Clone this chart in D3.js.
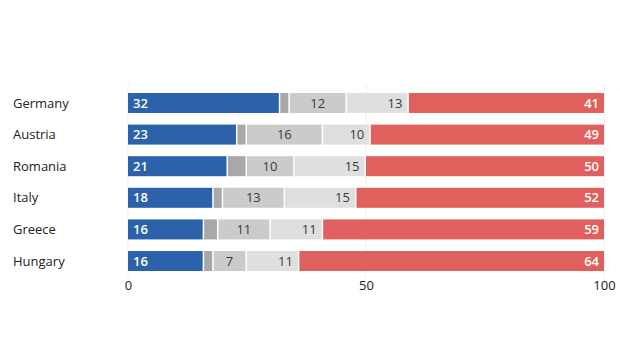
<!DOCTYPE html>
<html>
<head>
<meta charset="utf-8">
<script src="https://cdn.jsdelivr.net/npm/d3@7"></script>
<style>
  html, body { margin: 0; padding: 0; background: #fff; }
  svg { display: block; font-family: "Open Sans", "Noto Sans", sans-serif; }
</style>
</head>
<body>
<svg id="chart" width="620" height="349"></svg>
<script>
// Survey shares per country, stacked left to right (percent)
const countries = ["Germany", "Austria", "Romania", "Italy", "Greece", "Hungary"];
const favour    = [32, 23, 21, 18, 16, 16];
const noAnswer  = [2, 2, 4, 2, 3, 2];
const neutral   = [12, 16, 10, 13, 11, 7];
const leaning   = [13, 10, 15, 15, 11, 11];
const against   = [41, 49, 50, 52, 59, 64];
const xTicks    = [0, 50, 100];

const seriesKeys = ["favour", "noAnswer", "neutral", "leaning", "against"];
const seriesValues = { favour, noAnswer, neutral, leaning, against };
const colors = {
  favour: "#2b62a9",
  noAnswer: "#a8a8a8",
  neutral: "#cbcbcb",
  leaning: "#dfdfdf",
  against: "#e0605e"
};

const rows = countries.map((c, i) => {
  const r = { country: c };
  seriesKeys.forEach(k => r[k] = seriesValues[k][i]);
  return r;
});

const svg = d3.select("#chart");

const x = d3.scaleLinear().domain([0, 100]).range([128, 604]);
const y = d3.scaleBand().domain(countries)
  .range([87.2, 276.8]).paddingInner(0.367).paddingOuter(0.183);

// faint vertical gridlines
svg.append("g").selectAll("line").data(xTicks).join("line")
  .attr("x1", d => x(d)).attr("x2", d => x(d))
  .attr("y1", 84).attr("y2", 278)
  .attr("stroke", "#eeeeee").attr("stroke-width", 1);

const stacked = d3.stack().keys(seriesKeys)(rows);
const gap = 1.5;

const layers = svg.append("g").selectAll("g").data(stacked).join("g")
  .attr("fill", d => colors[d.key]);

layers.selectAll("rect").data(d => d.map(s => ({ s, key: d.key })))
  .join("rect")
  .attr("x", d => x(d.s[0]))
  .attr("y", d => y(d.s.data.country))
  .attr("height", y.bandwidth())
  .attr("width", d => {
    const w = x(d.s[1]) - x(d.s[0]);
    return d.key === "against" ? w : Math.max(0, w - gap);
  });

// value labels
const labels = svg.append("g").attr("font-size", 13);
stacked.forEach(layer => {
  if (layer.key === "noAnswer") return;
  layer.forEach(s => {
    const v = s.data[layer.key];
    const cy = y(s.data.country) + y.bandwidth() / 2;
    let tx, anchor, fill;
    if (layer.key === "favour") { tx = x(s[0]) + 5; anchor = "start"; fill = "#fff"; }
    else if (layer.key === "against") { tx = x(s[1]) - 5; anchor = "end"; fill = "#fff"; }
    else if (layer.key === "neutral") { tx = (x(s[0]) + x(s[1]) - gap) / 2; anchor = "middle"; fill = "#3a3a3a"; }
    else { tx = x(s[1]) - gap - 5; anchor = "end"; fill = "#3a3a3a"; }
    labels.append("text")
      .attr("x", tx).attr("y", cy).attr("dy", "0.35em")
      .attr("text-anchor", anchor).attr("fill", fill)
      .attr("font-weight", layer.key === "favour" || layer.key === "against" ? 600 : 400)
      .text(v);
  });
});

// country names
svg.append("g").selectAll("text").data(countries).join("text")
  .attr("x", 13).attr("y", d => y(d) + y.bandwidth() / 2).attr("dy", "0.35em")
  .attr("font-size", 13).attr("fill", "#222")
  .text(d => d);

// x axis tick labels
const xAxis = d3.axisBottom(x).tickValues(xTicks).tickSize(0).tickPadding(0);
const ax = svg.append("g").attr("transform", "translate(0,281)").call(xAxis);
ax.select(".domain").remove();
ax.selectAll("text").attr("font-size", 13).attr("fill", "#222")
  .attr("font-family", "\"Open Sans\", sans-serif");
</script>
</body>
</html>
